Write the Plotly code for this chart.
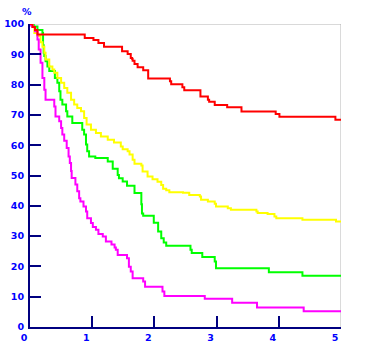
import plotly.graph_objects as go

# ---- data (time in years, survival %) ----
red_t = [0, 0.04, 0.08, 0.12, 0.88, 1.02, 1.10, 1.19, 1.48, 1.57, 1.62, 1.64, 1.65, 1.68, 1.73, 1.82,
         1.90, 2.25, 2.27, 2.45, 2.48, 2.74, 2.86, 2.88, 2.97, 3.17, 3.40, 3.95, 4.01, 4.91, 5.0]
red_s = [100, 99, 98, 96.5, 95.4, 94.7, 93.7, 92.5, 91.0, 90.1, 88.8, 88.5, 87.9, 86.8, 85.7, 84.7,
         82.0, 81.1, 80.1, 79.1, 78.1, 76.1, 75.0, 74.3, 73.3, 72.5, 71.1, 70.3, 69.4, 68.4, 68.4]

yel_t = [0, 0.04, 0.07, 0.12, 0.17, 0.20, 0.23, 0.25, 0.31, 0.36, 0.39, 0.44, 0.50, 0.55, 0.60,
         0.66, 0.71, 0.76, 0.82, 0.87, 0.91, 0.98, 1.06, 1.14, 1.25, 1.35, 1.46, 1.49, 1.57, 1.60,
         1.65, 1.68, 1.79, 1.81, 1.89, 1.97, 2.05, 2.11, 2.14, 2.19, 2.24, 2.46, 2.56, 2.73, 2.75,
         2.86, 2.97, 2.99, 3.18, 3.23, 3.64, 3.66, 3.82, 3.93, 3.96, 4.38, 4.92, 5.0]
yel_s = [100, 99, 97, 96, 94, 92.5, 90.5, 88.3, 86, 85, 83.9, 82.2, 80.6, 78.9, 77.3,
         75, 73.4, 72.3, 71.2, 69, 66.8, 65.1, 64, 62.9, 61.8, 60.9, 59.6, 58.7, 58, 56.9,
         55.2, 53.9, 53.3, 51.3, 49.7, 48.8, 47.9, 46.9, 45.6, 45.1, 44.5, 44.3, 43.6, 43.1, 42,
         41.4, 40.7, 39.8, 39.2, 38.7, 38.1, 37.6, 37.3, 36.5, 35.9, 35.4, 34.8, 34.8]

grn_t = [0, 0.06, 0.12, 0.20, 0.21, 0.22, 0.23, 0.25, 0.28, 0.31, 0.40, 0.44, 0.47, 0.49, 0.52,
         0.58, 0.60, 0.68, 0.84, 0.87, 0.90, 0.92, 0.95, 1.05, 1.25, 1.33, 1.41, 1.43, 1.49, 1.56,
         1.68, 1.79, 1.80, 1.82, 1.99, 2.06, 2.11, 2.15, 2.19, 2.58, 2.60, 2.77, 2.97, 2.99, 3.84,
         4.38, 5.0]
grn_s = [100, 99.2, 98, 97, 93, 90.5, 89.4, 87.7, 86, 84.5, 82.2, 80.6, 77.8, 75, 73.4,
         71.2, 69.5, 67.3, 65.1, 63.5, 60.2, 58, 56.3, 55.8, 54.6, 52.2, 50.2, 49.1, 48, 46.6,
         44.2, 40.5, 37.5, 36.7, 34.4, 31.5, 29.3, 27.9, 26.8, 25.5, 24.4, 23.1, 21.6, 19.4, 18.1,
         16.9, 16.9]

mag_t = [0, 0.01, 0.04, 0.08, 0.12, 0.14, 0.17, 0.20, 0.23, 0.25, 0.39, 0.41, 0.47, 0.50, 0.52,
         0.55, 0.59, 0.62, 0.64, 0.66, 0.67, 0.73, 0.76, 0.79, 0.81, 0.86, 0.90, 0.92, 0.98, 1.01,
         1.06, 1.10, 1.17, 1.22, 1.31, 1.36, 1.38, 1.41, 1.56, 1.59, 1.62, 1.65, 1.82, 1.85, 2.13,
         2.16, 2.81, 3.25, 3.65, 4.40, 5.0]
mag_s = [100, 99.5, 99, 97.6, 94.9, 91.6, 87.2, 82.2, 78.3, 75, 72.8, 69.5, 67.9, 65.7, 63.5,
         61.5, 59.1, 56.3, 54.1, 51.5, 49.2, 47.0, 44.8, 42.5, 41.4, 39.8, 38.1, 35.9, 34.3, 33.0,
         32.1, 30.7, 29.9, 28.2, 27.2, 26.2, 25.5, 23.8, 22.7, 19.9, 18.3, 16.1, 15.0, 13.3, 11.7,
         10.2, 9.3, 8.0, 6.4, 5.2, 5.2]

x_ticks = [0, 1, 2, 3, 4, 5]
x_labels = ["0", "1", "2", "3", "4", "5"]
y_ticks = [0, 10, 20, 30, 40, 50, 60, 70, 80, 90, 100]
y_labels = ["0", "10", "20", "30", "40", "50", "60", "70", "80", "90", "100"]

series = [
    ("green", grn_t, grn_s, "#00FF00"),
    ("yellow", yel_t, yel_s, "#FFFF00"),
    ("magenta", mag_t, mag_s, "#FF00FF"),
    ("red", red_t, red_s, "#FF0000"),
]

NAVY = "#000080"
LABEL_FONT = dict(family="DejaVu Sans, Verdana, sans-serif", size=9.5, color="#0000FF", weight="bold")

fig = go.Figure()
for name, t, s, col in series:
    fig.add_trace(go.Scatter(x=t, y=s, mode="lines", name=name,
                             line=dict(color=col, width=2, shape="hv"),
                             showlegend=False, hoverinfo="skip"))

# gray top/right frame
fig.add_shape(type="line", xref="x", yref="y", x0=0, x1=5, y0=100, y1=100,
              line=dict(color="#B4B4B4", width=1), layer="below")
fig.add_shape(type="line", xref="x", yref="y", x0=5, x1=5, y0=0, y1=100,
              line=dict(color="#B4B4B4", width=1), layer="below")

fig.add_annotation(text="%", xref="paper", yref="paper", x=-0.01, y=1.041,
                   showarrow=False, font=LABEL_FONT, xanchor="center", yanchor="middle")

fig.update_layout(
    width=365, height=361,
    margin=dict(l=30, r=24, t=24, b=34, pad=0, autoexpand=False),
    paper_bgcolor="white", plot_bgcolor="white",
    xaxis=dict(range=[0, 5], tickvals=x_ticks, ticktext=x_labels, automargin=False,
               ticks="inside", ticklen=11, tickwidth=2, tickcolor=NAVY,
               showline=True, linecolor=NAVY, linewidth=2,
               showgrid=False, zeroline=False, tickfont=LABEL_FONT,
               ticklabelshift=-6, ticklabelstandoff=1),
    yaxis=dict(range=[0, 100], tickvals=y_ticks, ticktext=y_labels, automargin=False,
               ticks="inside", ticklen=11, tickwidth=2, tickcolor=NAVY,
               showline=True, linecolor=NAVY, linewidth=2,
               showgrid=False, zeroline=False, tickfont=LABEL_FONT,
               ticklabelstandoff=2),
)

fig.write_html("out.html")
